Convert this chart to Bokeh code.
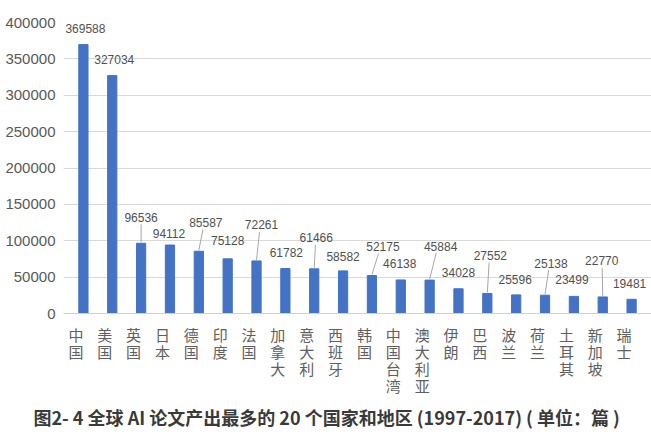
from bokeh.plotting import figure
from bokeh.models import (ColumnDataSource, FactorRange, Range1d, SingleIntervalTicker,
                          BasicTickFormatter, LabelSet, Title, CategoricalAxis,
                          CustomJSTickFormatter)
from bokeh.core.properties import value
from bokeh.embed import file_html
from bokeh.resources import INLINE

# ---- data ----
countries = ["中国", "美国", "英国", "日本", "德国", "印度", "法国", "加拿大", "意大利", "西班牙",
             "韩国", "中国台湾", "澳大利亚", "伊朗", "巴西", "波兰", "荷兰", "土耳其", "新加坡", "瑞士"]
papers = [369588, 327034, 96536, 94112, 85587, 75128, 72261, 61782, 61466, 58582,
          52175, 46138, 45884, 34028, 27552, 25596, 25138, 23499, 22770, 19481]
y_ticks_max = 400000
y_tick_step = 50000
caption = "图2- 4 全球 AI 论文产出最多的 20 个国家和地区 (1997-2017) ( 单位：篇 )"

# ---- style: data-label callout placement (pixels) ----
label_dx = [2, 2, 0, -1, 7, 0, 5, 1, 2, 0, 11, -1, 11, 0, 3, -1, 6, -2, -1, -2]
label_dy = [16, 16, 26, 12, 29, 18, 36, 16, 31, 14, 29, 16, 34, 16, 38, 15, 32, 17, 36, 16]
leader = [False, False, True, False, True, False, True, False, True, False,
          True, False, True, False, True, False, True, False, True, False]

W, H = 651, 438
TOP, BOTTOM, LEFT, RIGHT = 22, 125, 63, 0
PAD = 0.19                         # category-range padding (synthetic units, each end)
frame_h = H - TOP - BOTTOM
frame_w = W - LEFT - RIGHT
u = y_ticks_max / frame_h           # data units per pixel (y)
cw = frame_w / (len(countries) + 2 * PAD)   # pixels per category

src = ColumnDataSource(dict(cat=countries, val=papers,
                            txt=[str(v) for v in papers],
                            dx=label_dx, dy=label_dy))

lx0, ly0, lx1, ly1 = [], [], [], []
for i, (v, dx, dy, f) in enumerate(zip(papers, label_dx, label_dy, leader)):
    if f:
        lx0.append(i + 0.5)
        ly0.append(v + 1 * u)
        lx1.append(i + 0.5 + dx * 0.6 / cw)
        ly1.append(v + (dy - 7) * u)
lsrc = ColumnDataSource(dict(x0=lx0, y0=ly0, x1=lx1, y1=ly1))

xr = FactorRange(*countries, range_padding=PAD, range_padding_units="absolute")
p = figure(width=W, height=H, x_range=xr,
           y_range=Range1d(0, y_ticks_max), output_backend="svg",
           toolbar_location=None, min_border_top=TOP, min_border_bottom=BOTTOM,
           min_border_left=LEFT, min_border_right=RIGHT)
p.outline_line_color = None
p.background_fill_color = "white"
p.border_fill_color = "white"

p.vbar(x="cat", top="val", width=0.32, source=src, color="#4472C4")
p.segment(x0="x0", y0="y0", x1="x1", y1="y1", source=lsrc,
          line_color="#a6a6a6", line_width=1)

labels = LabelSet(x="cat", y="val", text="txt", x_offset="dx", y_offset="dy",
                  source=src, text_align="center", text_baseline="middle",
                  text_font=value("Liberation Sans"), text_font_size="12px",
                  text_color="#505050")
p.add_layout(labels)

# y axis
p.yaxis.ticker = SingleIntervalTicker(interval=y_tick_step)
p.yaxis.formatter = BasicTickFormatter(use_scientific=False)
p.yaxis.axis_line_color = None
p.yaxis.major_tick_line_color = None
p.yaxis.minor_tick_line_color = None
p.yaxis.major_label_standoff = 2
p.yaxis.major_label_text_font = "Liberation Sans"
p.yaxis.major_label_text_font_size = "15px"
p.yaxis.major_label_text_color = "#595959"


def style_row_axis(ax, k, standoff):
    ax.major_tick_line_color = None
    ax.minor_tick_line_color = None
    ax.major_label_standoff = standoff
    ax.major_label_orientation = 0
    ax.major_label_text_font = "Noto Sans CJK SC"
    ax.major_label_text_font_size = "15px"
    ax.major_label_text_color = "#606060"
    ax.formatter = CustomJSTickFormatter(
        args=dict(k=k),
        code="const s = Array.from(String(tick)); return k < s.length ? s[k] : ' ';")


# x axis: category names written vertically, one character per stacked axis row
style_row_axis(p.xaxis[0], 0, 15)
p.xaxis[0].axis_line_color = "#d0d0d0"
max_len = max(len(c) for c in countries)
for k in range(1, max_len):
    ax = CategoricalAxis()
    style_row_axis(ax, k, -13)
    ax.axis_line_color = None
    p.add_layout(ax, "below")

p.xgrid.grid_line_color = None
p.ygrid.grid_line_color = "#d9d9d9"
p.ygrid.grid_line_width = 1

p.add_layout(Title(text=caption, align="left", offset=-30, standoff=-16,
                   text_font="Noto Sans CJK SC", text_font_size="18px",
                   text_font_style="bold", text_color="#3a3a3a"), "below")

open("out.html", "w").write(file_html(p, INLINE))
